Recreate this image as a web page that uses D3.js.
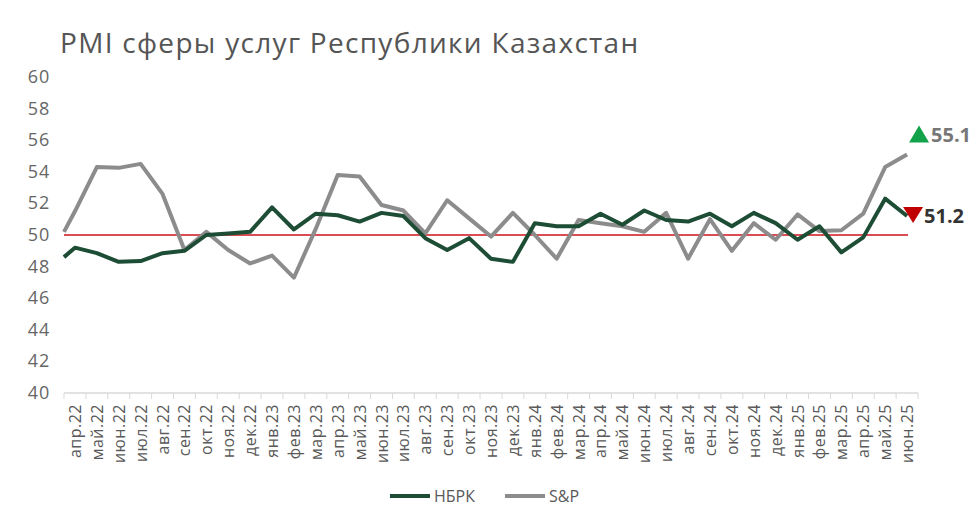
<!DOCTYPE html>
<html><head><meta charset="utf-8">
<script src="https://cdn.jsdelivr.net/npm/d3@7"></script>
<style>body{margin:0;background:#fff}</style></head>
<body><svg id="c" width="978" height="525"></svg>
<script>
const categories=["апр.22","май.22","июн.22","июл.22","авг.22","сен.22","окт.22","ноя.22","дек.22","янв.23","фев.23","мар.23","апр.23","май.23","июн.23","июл.23","авг.23","сен.23","окт.23","ноя.23","дек.23","янв.24","фев.24","мар.24","апр.24","май.24","июн.24","июл.24","авг.24","сен.24","окт.24","ноя.24","дек.24","янв.25","фев.25","мар.25","апр.25","май.25","июн.25"];
const nbrkStart=48.6, spStart=50.2;
const nbrk=[49.2,48.85,48.3,48.35,48.85,49.0,50.0,50.1,50.2,51.75,50.35,51.35,51.25,50.85,51.4,51.2,49.8,49.05,49.8,48.5,48.3,50.75,50.55,50.55,51.35,50.65,51.55,50.95,50.85,51.35,50.55,51.4,50.75,49.7,50.55,48.9,49.85,52.3,51.2];
const sp=[51.5,54.3,54.25,54.5,52.6,49.05,50.2,49.05,48.2,48.7,47.3,50.4,53.8,53.7,51.9,51.55,50.1,52.2,51.05,49.9,51.4,50.0,48.5,50.95,50.75,50.55,50.2,51.4,48.5,51.0,49.0,50.75,49.7,51.3,50.25,50.3,51.35,54.3,55.1];
const yTicks=[40,42,44,46,48,50,52,54,56,58,60];
const svg=d3.select("#c");
const x=d3.scaleBand().domain(categories).range([64,918]);
const y=d3.scaleLinear().domain([40,60]).range([393,77]);
const cx=c=>x(c)+x.bandwidth()/2;
svg.append("text").attr("x",60).attr("y",53).attr("font-family","Open Sans").attr("font-size",28).attr("letter-spacing",1.3).attr("fill","#555").text("PMI сферы услуг Республики Казахстан");
yTicks.forEach(t=>svg.append("text").attr("x",50).attr("y",y(t)+6).attr("text-anchor","end").attr("font-family","Open Sans").attr("font-size",18).attr("letter-spacing",0.8).attr("fill","#666").text(t));
svg.append("line").attr("x1",64).attr("x2",918).attr("y1",393).attr("y2",393).attr("stroke","#d9d9d9").attr("stroke-width",1.5);
categories.concat([null]).forEach((c,i)=>{const xx=c?x(c):918;svg.append("line").attr("x1",xx).attr("x2",xx).attr("y1",393).attr("y2",399).attr("stroke","#d9d9d9");});
categories.forEach(c=>svg.append("text").attr("transform",`translate(${cx(c)+6},404) rotate(-90)`).attr("text-anchor","end").attr("font-family","Open Sans").attr("font-size",16).attr("letter-spacing",0.5).attr("fill","#595959").text(c));
svg.append("line").attr("x1",64).attr("x2",908).attr("y1",y(50)).attr("y2",y(50)).attr("stroke","#d0101b").attr("stroke-width",1.5);
const line=d3.line().x(d=>d[0]).y(d=>y(d[1]));
function pts(start,arr){return [[x(categories[0]),start]].concat(arr.map((v,i)=>[cx(categories[i]),v]));}
svg.append("path").attr("d",line(pts(spStart,sp))).attr("fill","none").attr("stroke","#8c8c8c").attr("stroke-width",4).attr("stroke-linejoin","round");
svg.append("path").attr("d",line(pts(nbrkStart,nbrk))).attr("fill","none").attr("stroke","#1e4d35").attr("stroke-width",4).attr("stroke-linejoin","round");
const lx=cx(categories[38]);
const ySp=y(sp[38]), yN=y(nbrk[38]);
svg.append("path").attr("d",`M${lx+2},${ySp-12} l10,-17 l10,17 z`).attr("fill","#12a34a");
svg.append("text").attr("x",lx+24).attr("y",ySp-12).attr("font-family","Open Sans").attr("font-weight",700).attr("font-size",20).attr("fill","#777").text(sp[38].toFixed(1));
svg.append("path").attr("d",`M${lx-4},${yN-9} l20,0 l-10,16 z`).attr("fill","#c00000");
svg.append("text").attr("x",lx+17).attr("y",yN+7).attr("font-family","Open Sans").attr("font-weight",700).attr("font-size",20).attr("fill","#333").text(nbrk[38].toFixed(1));
const lg=svg.append("g").attr("font-family","Open Sans").attr("font-size",16).attr("fill","#595959");
lg.append("line").attr("x1",390).attr("x2",430).attr("y1",496).attr("y2",496).attr("stroke","#1e4d35").attr("stroke-width",4);
lg.append("text").attr("x",434).attr("y",502).text("НБРК");
lg.append("line").attr("x1",505).attr("x2",545).attr("y1",496).attr("y2",496).attr("stroke","#8c8c8c").attr("stroke-width",4);
lg.append("text").attr("x",549).attr("y",502).text("S&P");
</script></body></html>
